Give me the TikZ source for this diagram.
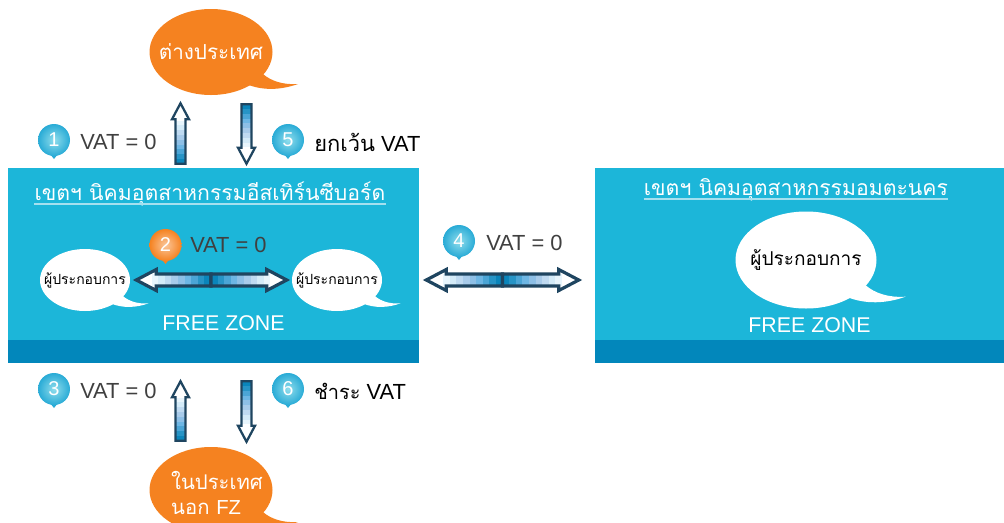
\documentclass[tikz,border=0pt]{standalone}
\usepackage{fontspec}
\usetikzlibrary{calc,shapes.geometric}
\setmainfont{Liberation Sans}
\newfontfamily\thaifont[Script=Thai]{Loma}
\definecolor{zonecol}{HTML}{1CB6D9}
\definecolor{bandcol}{HTML}{0287BB}
\definecolor{orangecol}{HTML}{F58220}
\definecolor{arrowcol}{HTML}{1F4560}
\definecolor{txtcol}{HTML}{404040}
\definecolor{ulinecol}{HTML}{A5E0EF}
\definecolor{badgein}{HTML}{8FDDEC}
\definecolor{badgeout}{HTML}{29ABD6}
\definecolor{gA}{HTML}{0A85BB}
\definecolor{gB}{HTML}{2794C6}
\definecolor{gC}{HTML}{4BA5D6}
\definecolor{gD}{HTML}{6DB6E4}
\definecolor{gE}{HTML}{8DBFE6}
\definecolor{gF}{HTML}{A8CBEA}
\definecolor{gG}{HTML}{BFDAF1}
\definecolor{gH}{HTML}{D4EBF8}
\definecolor{gI}{HTML}{E8F5FC}
\tikzset{
  zonebox/.style={fill=zonecol,draw=none,rectangle,inner sep=0pt,minimum height=146.25pt},
  bandbox/.style={fill=bandcol,draw=none,rectangle,inner sep=0pt,minimum height=17.25pt},
  bubble/.style={ellipse,inner sep=0pt,draw=none},
  bigorange/.style={bubble,fill=orangecol,text=white,minimum width=92.25pt,minimum height=64.5pt,font=\thaifont\fontsize{15.5}{18}\selectfont},
  smallwhite/.style={bubble,fill=white,text=black,minimum width=67.5pt,minimum height=46.5pt,font=\thaifont\fontsize{10.5}{12}\selectfont},
  bigwhite/.style={bubble,fill=white,text=black,minimum width=105.75pt,minimum height=72.75pt,font=\thaifont\fontsize{14.3}{16}\selectfont},
  titletext/.style={text=white,inner sep=0pt,anchor=base,font=\thaifont\fontsize{15.9}{18}\selectfont},
  uline/.style={draw=ulinecol,line width=1pt},
  fztext/.style={text=white,inner sep=0pt,font=\fontsize{16}{18}\selectfont},
  vattext/.style={text=txtcol,inner sep=0pt,anchor=west,font=\fontsize{16.4}{18}\selectfont},
  blacktext/.style={text=black,inner sep=0pt,anchor=west,font=\fontsize{16.4}{18}\selectfont},
  badgeblue/.style={circle,inner sep=0pt,minimum size=24pt,inner color=badgein,outer color=badgeout,text=white,font=\fontsize{15}{15}\selectfont},
  badgeorange/.style={circle,inner sep=0pt,minimum size=24pt,inner color=orangecol!45!white,outer color=orangecol,text=white,font=\fontsize{15}{15}\selectfont}
}
% text that does not widen the ellipse around it
\newcommand{\inbubble}[1]{\makebox[0pt][c]{#1}}
% speech-bubble tail, in px of a bubble whose half width is 61.5 px
\newcommand{\bubbletail}[3]{%
  \begin{scope}[shift={(#1.center)},x=#2*0.75pt,y=-#2*0.75pt]
    \fill[#3] (45,12) -- (52,22) .. controls (60,29) and (72,33) .. (87,32)
      .. controls (70,38) and (52,39) .. (35,32) -- cycle;
  \end{scope}}
% block arrow from #1 (tail) to #2 (tip); #3 half shaft, #4 half head, #5 head length, #6 px per colour step, #7 line width
\newcommand{\blockarrow}[7]{%
  \path let \p1=(#1), \p2=(#2),
    \n1={atan2(\y2-\y1,\x2-\x1)}, \n2={veclen(\x2-\x1,\y2-\y1)} in
    \pgfextra{\xdef\arang{\n1}\pgfmathsetmacro{\arlen}{\n2/0.75}\xdef\arlen{\arlen}};
  \begin{scope}[shift={(#1)},rotate=\arang,x=0.75pt,y=0.75pt]
    \fill[white] (0,-#3) -- (\arlen-#5,-#3) -- (\arlen-#5,-#4) -- (\arlen,0) -- (\arlen-#5,#4) -- (\arlen-#5,#3) -- (0,#3) -- cycle;
    \foreach \cc [count=\ii from 0] in {gA,gB,gC,gD,gE,gF,gG,gH,gI}
      \fill[\cc] ({\ii*#6},-#3) rectangle ({(\ii+1)*#6},#3);
    \draw[arrowcol,line width=#7,miter limit=6] (0,-#3) -- (\arlen-#5,-#3) -- (\arlen-#5,-#4) -- (\arlen,0) -- (\arlen-#5,#4) -- (\arlen-#5,#3) -- (0,#3) -- cycle;
  \end{scope}}
% numbered badge with a small pin under it
\newcommand{\badge}[6]{%
  \fill[#5] (#2-4,#3+14) -- (#2,#3+19) -- (#2+4,#3+14) -- cycle;
  \node[#4] (#1) at (#2,#3) {#6};}
\begin{document}
\begin{tikzpicture}[x=0.75pt,y=-0.75pt]
\useasboundingbox (0,0) rectangle (1004,522);
\clip (0,0) rectangle (1004,522);

% zones
\node[zonebox,minimum width=308.25pt] (zoneA) at (213.5,265.5) {};
\node[zonebox,minimum width=306.75pt] (zoneB) at (799.5,265.5) {};
\node[bandbox,minimum width=308.25pt] (bandA) at (213.5,351.5) {};
\node[bandbox,minimum width=306.75pt] (bandB) at (799.5,351.5) {};

% titles
\node[titletext] (titleA) at (210,200) {เขตฯ นิคมอุตสาหกรรมอีสเทิร์นซีบอร์ด};
\node[titletext] (titleB) at (796,195) {เขตฯ นิคมอุตสาหกรรมอมตะนคร};
\draw[uline] ($(titleA.base west)+(0,4)$) -- ($(titleA.base east)+(0,4)$);
\draw[uline] ($(titleB.base west)+(0,4)$) -- ($(titleB.base east)+(0,4)$);

% bubbles
\node[bigorange] (abroad) at (211,52) {\inbubble{ต่างประเทศ}};
\bubbletail{abroad}{1}{orangecol}
\node[bigorange] (home) at (211,490) {};
\bubbletail{home}{1}{orangecol}
\node[text=white,inner sep=0pt,align=left,font=\thaifont\fontsize{15.2}{18.75}\selectfont] (homeText) at ($(home.center)+(6,3)$) {ในประเทศ\\นอก {\normalfont\fontsize{15.2}{18.75}\selectfont FZ}};
\node[smallwhite] (opA) at (85,280) {\inbubble{ผู้ประกอบการ}};
\bubbletail{opA}{0.73}{white}
\node[smallwhite] (opB) at (337,280) {\inbubble{ผู้ประกอบการ}};
\bubbletail{opB}{0.73}{white}
\node[bigwhite] (opC) at (806,260) {\inbubble{ผู้ประกอบการ}};
\bubbletail{opC}{1.146}{white}

% free zone labels
\node[fztext] (fzA) at (223.5,323) {FREE ZONE};
\node[fztext] (fzB) at (809.5,325) {FREE ZONE};

% arrow end points, taken from the shapes they join
\coordinate (a1tail) at ($(zoneA.north)+(-33,-4)$);
\coordinate (a1tip) at ($(abroad.south)+(-30.5,8)$);
\coordinate (a5tail) at ($(abroad.south)+(35.5,9)$);
\coordinate (a5tip) at ($(zoneA.north)+(33,-4)$);
\coordinate (a3tail) at ($(home.north)+(-30.5,-6)$);
\coordinate (a3tip) at ($(zoneA.south)+(-33,18)$);
\coordinate (a6tail) at ($(zoneA.south)+(33,18)$);
\coordinate (a6tip) at ($(home.north)+(35.5,-5)$);
\coordinate (a2mid) at (211,280);
\coordinate (a2left) at ($(opA.east)+(6,0)$);
\coordinate (a2right) at ($(opB.west)+(-5,0)$);
\coordinate (a4mid) at (502.5,280);
\coordinate (a4left) at ($(zoneA.east)+(7,14.5)$);
\coordinate (a4right) at ($(zoneB.west)+(-16,14.5)$);

% arrows
\blockarrow{a1tail}{a1tip}{5}{8.5}{16}{4.8}{1.7pt}
\blockarrow{a5tail}{a5tip}{5}{8.5}{16}{4.8}{1.7pt}
\blockarrow{a3tail}{a3tip}{5}{8.5}{16}{4.8}{1.7pt}
\blockarrow{a6tail}{a6tip}{5}{8.5}{16}{4.8}{1.7pt}
\blockarrow{a2mid}{a2left}{6}{10.5}{20}{6.6}{2.4pt}
\blockarrow{a2mid}{a2right}{6}{10.5}{20}{6.6}{2.4pt}
\blockarrow{a4mid}{a4left}{6}{10.5}{20}{6.6}{2.4pt}
\blockarrow{a4mid}{a4right}{6}{10.5}{20}{6.6}{2.4pt}

% badges
\badge{b1}{54}{140}{badgeblue}{badgeout}{1}
\badge{b5}{288}{140}{badgeblue}{badgeout}{5}
\badge{b3}{54}{389}{badgeblue}{badgeout}{3}
\badge{b6}{288}{389}{badgeblue}{badgeout}{6}
\badge{b2}{165.5}{245}{badgeorange}{orangecol}{2}
\badge{b4}{459}{241}{badgeblue}{badgeout}{4}

% badge captions
\node[vattext] (t1) at (80,142) {VAT = 0};
\node[vattext] (t3) at (80,391) {VAT = 0};
\node[vattext] (t2) at (190,245) {VAT = 0};
\node[vattext] (t4) at (486,243) {VAT = 0};
\node[blacktext] (t5) at (314,142) {{\thaifont ยกเว้น} VAT};
\node[blacktext] (t6) at (314,391) {{\thaifont\fontsize{15}{18}\selectfont ชำระ} VAT};
\end{tikzpicture}
\end{document}
